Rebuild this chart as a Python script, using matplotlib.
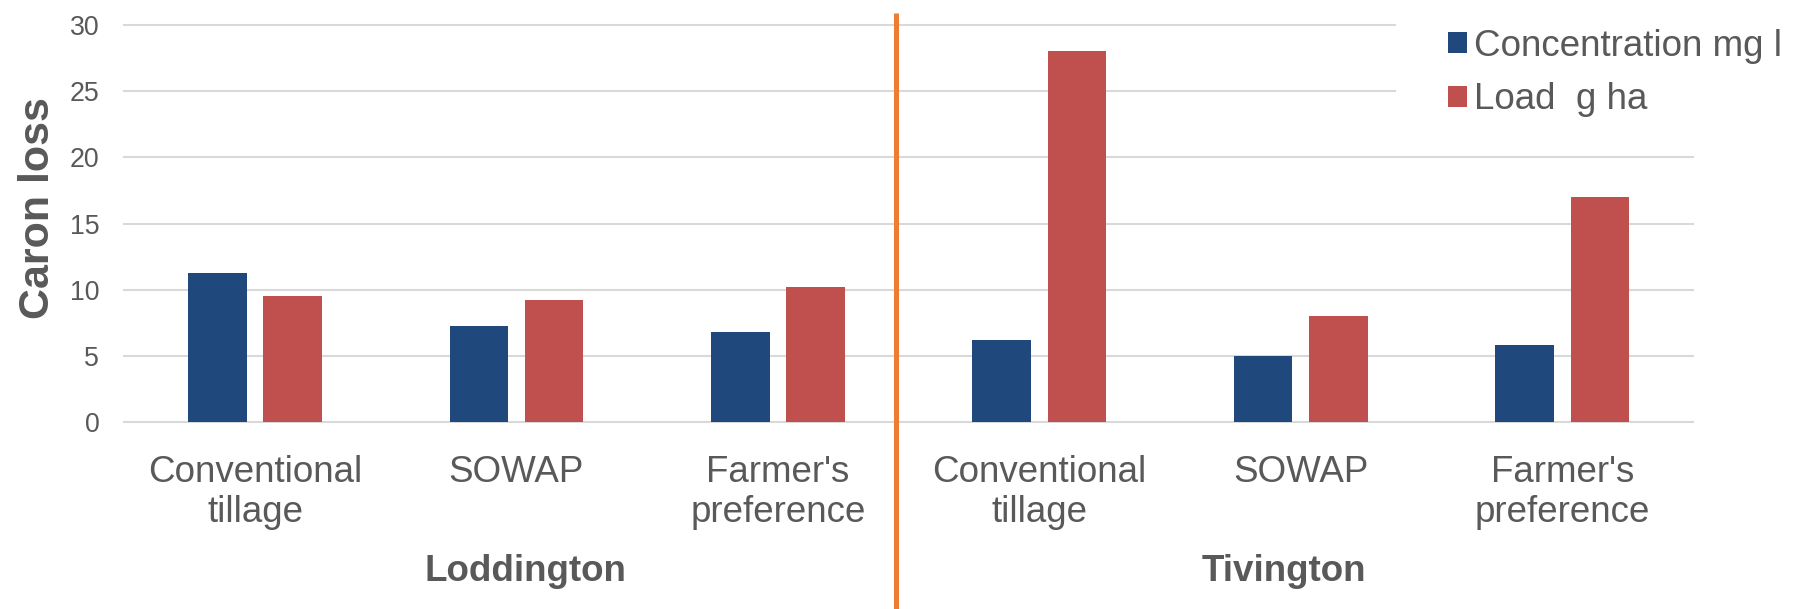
import matplotlib
matplotlib.use("Agg")
import matplotlib.pyplot as plt
from matplotlib.patches import Rectangle, Patch
from matplotlib.transforms import blended_transform_factory
import numpy as np

# Data
categories = ["Conventional\ntillage", "SOWAP", "Farmer's\npreference",
              "Conventional\ntillage", "SOWAP", "Farmer's\npreference"]
sites = ["Loddington", "Tivington"]
concentration = [11.3, 7.3, 6.8, 6.2, 5.0, 5.8]   # Concentration mg l
load = [9.5, 9.25, 10.2, 28.0, 8.0, 17.0]          # Load g ha
series_names = ["Concentration mg l", "Load  g ha"]
y_ticks = [0, 5, 10, 15, 20, 25, 30]

# Style
BLUE = "#1F497D"
RED = "#C0504D"
ORANGE = "#ED7D31"
GRID = "#D9D9D9"
TEXT = "#595959"
FONT = "Liberation Sans"

plt.rcParams["font.family"] = [FONT, "DejaVu Sans"]

W, H = 1800, 609
fig = plt.figure(figsize=(W / 100, H / 100), dpi=100)
ax = fig.add_axes([124.3 / W, 1 - 422.3 / H, (1693 - 124.3) / W, (422.3 - 25) / H])

x = np.arange(len(categories))
bar_w = 0.224
offset = 0.144
ax.bar(x - offset, concentration, width=bar_w, color=BLUE, zorder=3)
ax.bar(x + offset, load, width=bar_w, color=RED, zorder=3)

ax.set_xlim(-0.5, len(categories) - 0.5)
ax.set_ylim(0, 30)
ax.set_yticks(y_ticks)
ax.set_yticklabels([str(t) for t in y_ticks])
ax.set_xticks(x)
ax.set_xticklabels(categories, linespacing=1.17)

ax.tick_params(axis="y", length=0, pad=18, labelsize=19.3, labelcolor=TEXT)
ax.tick_params(axis="x", length=0, pad=23.5, labelsize=26.5, labelcolor=TEXT)
for s in ax.spines.values():
    s.set_visible(False)
ax.set_axisbelow(True)
ax.yaxis.grid(True, color=GRID, linewidth=1.5, clip_on=False)
ax.xaxis.grid(False)

# the legend sits on a white block over the top gridlines
ax.add_patch(Rectangle((0.8105, 0.75), 0.3, 0.3, transform=ax.transAxes,
                       facecolor="white", edgecolor="none", zorder=1, clip_on=False))

# divider between the two sites
divider_x = 2.452
ax.plot([divider_x, divider_x], [-0.5, 1.03], transform=ax.get_xaxis_transform(),
        color=ORANGE, linewidth=3.6, clip_on=False, zorder=4, solid_capstyle="butt")

# site labels
site_x = [1.035, 3.935]
site_tf = blended_transform_factory(ax.transData, fig.transFigure)
for sx, name in zip(site_x, sites):
    ax.text(sx, 1 - 581 / H, name, transform=site_tf,
            ha="center", va="baseline", fontsize=26.5, fontweight="bold", color=TEXT)

# y axis title
fig.text(49.3 / W, 1 - 208.5 / H, "Caron loss", rotation=90, rotation_mode="anchor",
         ha="center", va="baseline", fontsize=31, fontweight="bold", color=TEXT)

handles = [Patch(facecolor=BLUE, edgecolor="none"), Patch(facecolor=RED, edgecolor="none")]
fig.legend(handles, series_names, loc="upper left", bbox_to_anchor=(1448 / W, 1 - 28.7 / H),
           frameon=False, fontsize=26.5, labelcolor=TEXT, handlelength=0.52,
           handleheight=0.52, handletextpad=0.19, labelspacing=0.51,
           borderpad=0, borderaxespad=0)

fig.savefig("out.png", dpi=100, facecolor="white")
